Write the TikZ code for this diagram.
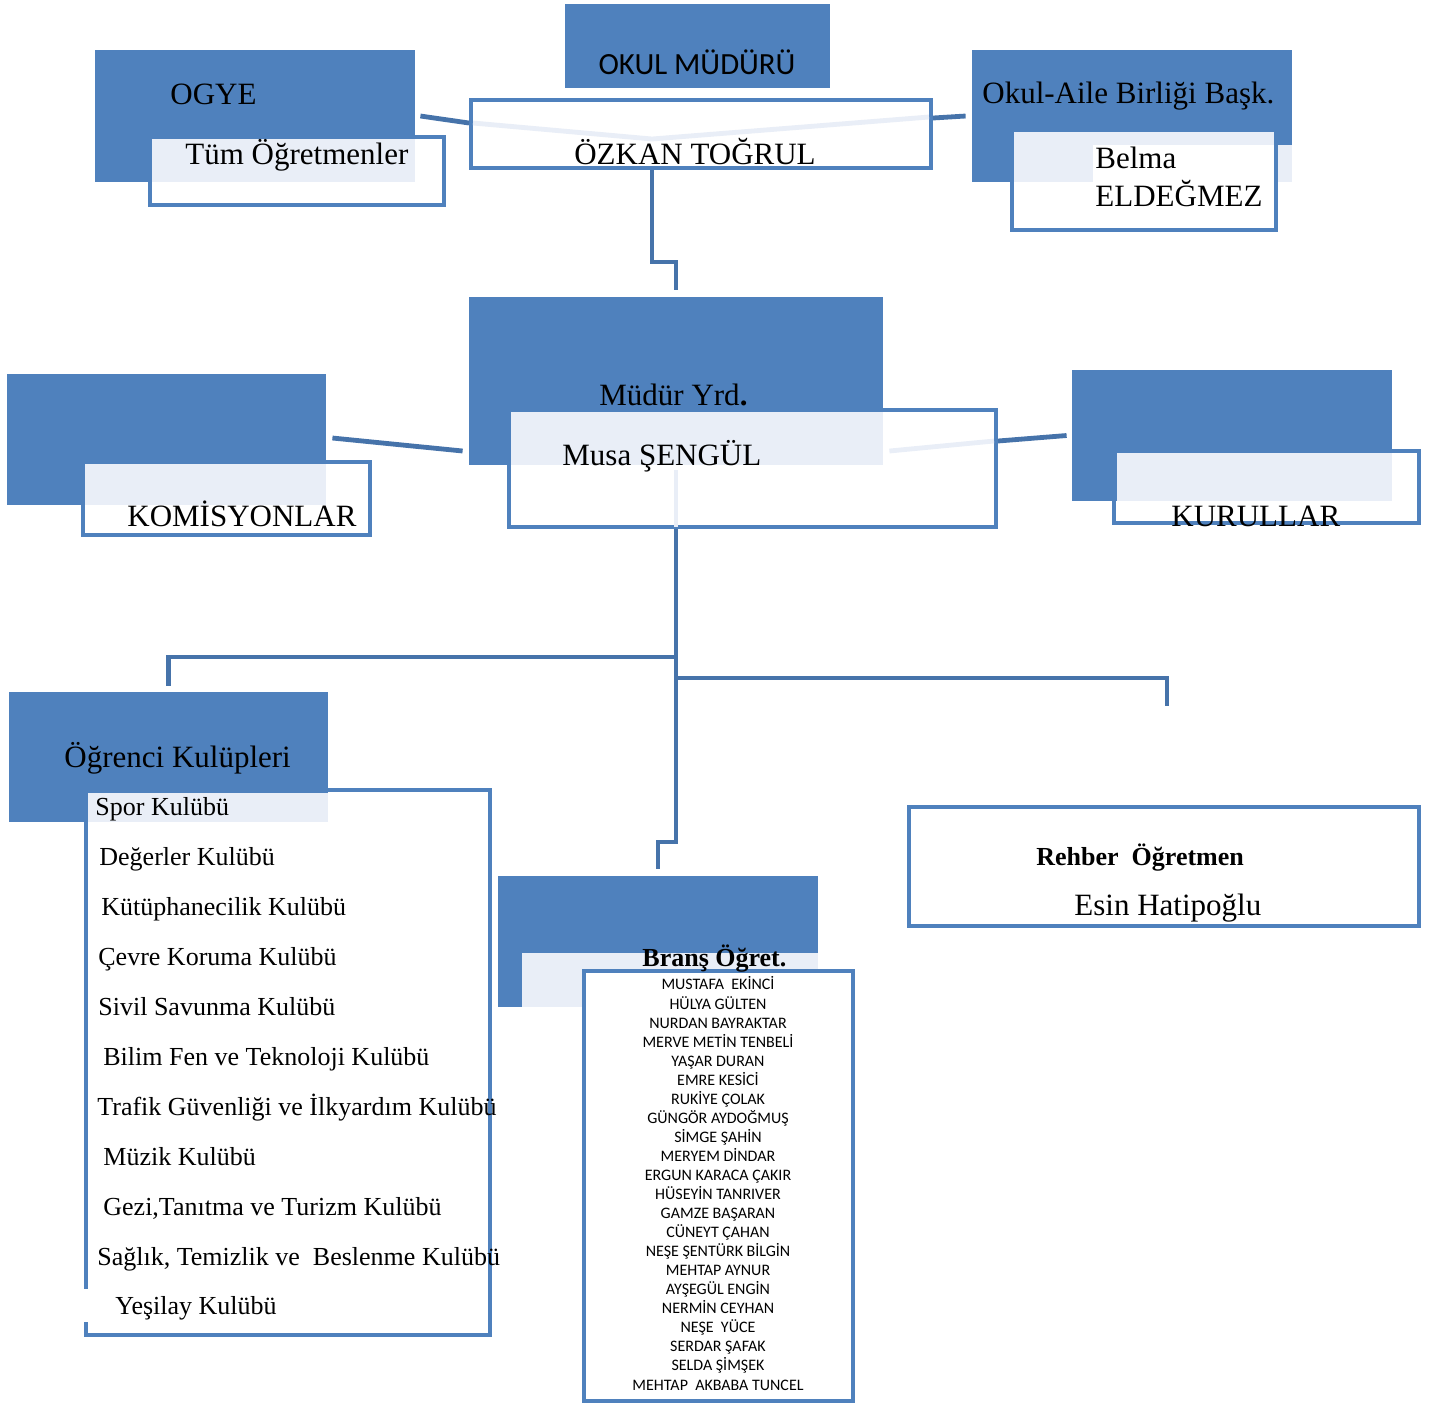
\documentclass[tikz,border=0pt]{standalone}
\usepackage{fontspec}
\setmainfont{Liberation Serif}
\newfontfamily\calibrifont{Carlito}
\usetikzlibrary{fit}

\definecolor{boxblue}{HTML}{4F81BD}
\definecolor{linkblue}{HTML}{4673AA}
\definecolor{paleblue}{HTML}{E9EEF7}

\begin{document}
\begin{tikzpicture}[x=0.5pt, y=-0.5pt,
        titlebox/.style={fill=boxblue, inner sep=0pt},
        textband/.style={fill=paleblue, inner sep=0pt},
        framebox/.style={draw=boxblue, line width=2pt, inner sep=0pt},
        link/.style={linkblue, line width=2.4pt},
        ghostlink/.style={paleblue, line width=2.4pt},
        bigtext/.style={font=\fontsize{15.5}{18}\selectfont, inner sep=0pt, anchor=base west},
        midtext/.style={font=\fontsize{13}{15}\selectfont, inner sep=0pt, anchor=base west}]
                \useasboundingbox (0,0) rectangle (1439,1405);
                % okul muduru
                \node[titlebox, fit={(565,4)(830,88)}] (okul) {};
                \node[framebox, fill=white, fit={(471,100)(931,168)}] (ozkan) {};
                \node[font=\calibrifont\fontsize{15.4}{18}\selectfont, inner sep=0pt, anchor=base] (okultxt) at (697,74) {OKUL MÜDÜRÜ};
                \node[bigtext, anchor=base] (ozkantxt) at (695,164) {ÖZKAN TOĞRUL};
                \coordinate (ozkanmid) at (652,139);
                % ogye
                \node[titlebox, fit={(95,50)(415,182)}] (ogye) {};
                \node[textband, fit={(150,137)(415,182)}] (ogyeband) {};
                \node[framebox, fit={(150,137)(444,205)}] (tum) {};
                \node[bigtext] (ogyetxt) at (170,104) {OGYE};
                \node[bigtext] (tumtxt) at (185,164) {Tüm Öğretmenler};
                % okul-aile birligi
                \node[titlebox, fit={(972,50)(1292,182)}] (aile) {};
                \node[textband, fit={(1013,128)(1278,145)}] (aileband) {};
                \node[textband, fit={(1013,145)(1292,182)}] (aileband2) {};
                \fill[white] (1093,145) rectangle (1275,182);
                \node[framebox, fit={(1012,130)(1276,230)}] (belma) {};
                \node[bigtext] (ailetxt) at (982,103) {Okul-Aile Birliği Başk.};
                \node[bigtext] (belmatxt) at (1095,168) {Belma};
                \node[bigtext] (belmatxt2) at (1095,206) {ELDEĞMEZ};
                % mudur yrd.
                \node[titlebox, fit={(469,297)(883,465)}] (myrd) {};
                \node[textband, fit={(511,412)(883,465)}] (myrdband) {};
                \node[framebox, fit={(509,410)(996,527)}] (musa) {};
                \node[bigtext] (myrdtxt) at (599,405) {Müdür Yrd\textbf{.}};
                \node[bigtext] (musatxt) at (562,465) {Musa ŞENGÜL};
                % komisyonlar
                \node[titlebox, fit={(7,374)(326,505)}] (kom) {};
                \node[textband, fit={(85,463)(326,505)}] (komband) {};
                \node[framebox, fit={(83,462)(370,535)}] (komframe) {};
                \node[bigtext] (komtxt) at (127,526) {KOMİSYONLAR};
                % kurullar
                \node[titlebox, fit={(1072,370)(1392,501)}] (kur) {};
                \node[textband, fit={(1117,453)(1392,501)}] (kurband) {};
                \node[framebox, fit={(1114,451)(1419,523)}] (kurframe) {};
                \node[bigtext] (kurtxt) at (1171,526) {KURULLAR};
                % ogrenci kulupleri
                \node[titlebox, fit={(9,692)(328,822)}] (ogrenci) {};
                \node[textband, fit={(88,793)(328,822)}] (ogrenciband) {};
                \node[framebox, fit={(86,790)(490,1335)}] (kulup) {};
                \fill[white] (80,1289) rectangle (90,1322);
                \node[bigtext] (ogrencitxt) at (64,767) {Öğrenci Kulüpleri};
                \node[midtext] (club1) at (95,815) {Spor Kulübü};
                \node[midtext] (club2) at (99,865) {Değerler Kulübü};
                \node[midtext] (club3) at (101,915) {Kütüphanecilik Kulübü};
                \node[midtext] (club4) at (98,965) {Çevre Koruma Kulübü};
                \node[midtext] (club5) at (98,1015) {Sivil Savunma Kulübü};
                \node[midtext] (club6) at (103,1065) {Bilim Fen ve Teknoloji Kulübü};
                \node[midtext] (club7) at (97,1115) {Trafik Güvenliği ve İlkyardım Kulübü};
                \node[midtext] (club8) at (103,1165) {Müzik Kulübü};
                \node[midtext] (club9) at (103,1215) {Gezi,Tanıtma ve Turizm Kulübü};
                \node[midtext] (club10) at (97,1265) {Sağlık, Temizlik ve\ \ Beslenme Kulübü};
                \node[midtext] (club11) at (115,1314) {Yeşilay Kulübü};
                % brans ogretmenleri
                \node[titlebox, fit={(498,876)(818,1007)}] (brans) {};
                \node[textband, fit={(522,953)(818,1007)}] (bransband) {};
                \node[framebox, fill=white, fit={(584,971)(853,1401)}] (names) {};
                \node[midtext, font=\bfseries\fontsize{13}{15}\selectfont] (branstxt) at (642,966) {Branş Öğret.};
                \node[font=\calibrifont\fontsize{8}{9.525}\selectfont, align=center, anchor=north, inner sep=0pt] (namelist) at (718,976.5) {MUSTAFA\ \ EKİNCİ\\HÜLYA GÜLTEN\\NURDAN BAYRAKTAR\\MERVE METİN TENBELİ\\YAŞAR DURAN\\EMRE KESİCİ\\RUKİYE ÇOLAK\\GÜNGÖR AYDOĞMUŞ\\SİMGE ŞAHİN\\MERYEM DİNDAR\\ERGUN KARACA ÇAKIR\\HÜSEYİN TANRIVER\\GAMZE BAŞARAN\\CÜNEYT ÇAHAN\\NEŞE ŞENTÜRK BİLGİN\\MEHTAP AYNUR\\AYŞEGÜL ENGİN\\NERMİN CEYHAN\\NEŞE\ \ YÜCE\\SERDAR ŞAFAK\\SELDA ŞİMŞEK\\MEHTAP\ \ AKBABA TUNCEL};
                % rehber
                \node[framebox, fit={(909,807)(1419,926)}] (rehber) {};
                \node[midtext, font=\bfseries\fontsize{13}{15}\selectfont] (rehbertxt) at (1036,865) {Rehber\ \ Öğretmen};
                \node[bigtext] (esintxt) at (1074,915) {Esin Hatipoğlu};
                % baglantilar
                \coordinate (clubsplit) at (676,657);
                \coordinate (rehbersplit) at (676,678);
                \coordinate (branssplit) at (676,842);
                \coordinate (rehberend) at (1167,706);
                \draw[link] ([xshift=2.5pt]ogye.east) -- ([yshift=5.5pt]ozkan.west);
                \draw[ghostlink] ([xshift=2pt,yshift=5.5pt]ozkan.west) -- (ozkanmid) -- ([xshift=-2pt,yshift=8.5pt]ozkan.east);
                \draw[link] ([yshift=8pt]ozkan.east) -- ([xshift=-3pt]aile.west);
                \draw[link] ([xshift=-24.5pt]ozkan.south) -- ++(0,92) -| ([yshift=3.5pt]myrd.north);
                \draw[link] ([xshift=3pt,yshift=0.75pt]kom.east) -- ([xshift=-3pt,yshift=-35pt]myrd.west);
                \draw[ghostlink] ([xshift=3pt,yshift=-35pt]myrd.east) -- ([xshift=-2pt,yshift=13.75pt]musa.east);
                \draw[link] ([yshift=13.75pt]musa.east) -- ([xshift=-2.5pt]kur.west);
                \draw[ghostlink] ([yshift=-2.5pt]myrd.south) -- ([yshift=1pt]myrd.south |- musa.south);
                \draw[link] (myrd.south |- musa.south) -- (branssplit) -| ([yshift=3.5pt]brans.north);
                \draw[link] (clubsplit) -| ([yshift=3pt]ogrenci.north);
                \draw[link] (rehbersplit) -| (rehberend);
\end{tikzpicture}
\end{document}
